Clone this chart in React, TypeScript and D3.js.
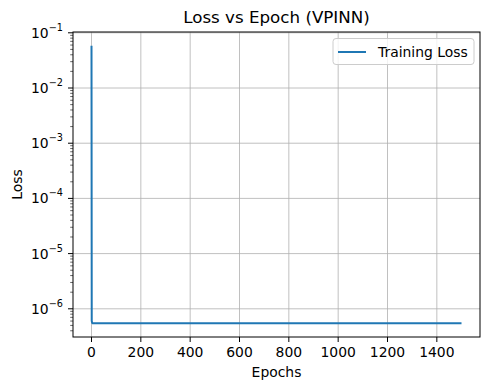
import React, { useEffect, useRef } from "react";
import * as d3 from "d3";

// loss curve
const epochs = [0, 1, 3, 1500];
const losses = [0.058, 6.0e-7, 5.5e-7, 5.5e-7];
const xTicks = [0, 200, 400, 600, 800, 1000, 1200, 1400];
const yExponents = [-6, -5, -4, -3, -2, -1];

const App = () => {
  const svgRef = useRef<SVGSVGElement>(null);

  useEffect(() => {
    const width = 490;
    const height = 390;
    const margin = { top: 32, right: 10, bottom: 53, left: 73 };
    const font = "DejaVu Sans, sans-serif";

    const svg = d3.select(svgRef.current);
    svg.selectAll("*").remove();
    svg.attr("width", width).attr("height", height);

    const data = epochs.map((e, i) => ({ epoch: e, loss: losses[i] }));

    const xPad = (d3.max(epochs)! - d3.min(epochs)!) * 0.05;
    const x = d3
      .scaleLinear()
      .domain([d3.min(epochs)! - xPad, d3.max(epochs)! + xPad])
      .range([margin.left, width - margin.right]);

    const lo = Math.log10(d3.min(losses)!);
    const hi = Math.log10(d3.max(losses)!);
    const yPad = (hi - lo) * 0.05;
    const y = d3
      .scaleLog()
      .domain([Math.pow(10, lo - yPad), Math.pow(10, hi + yPad)])
      .range([height - margin.bottom, margin.top]);

    svg.append("rect").attr("width", width).attr("height", height).attr("fill", "white");

    const [x0, x1] = x.range();
    const [y0, y1] = y.range();

    // grid
    const grid = svg.append("g").attr("stroke", "#b0b0b0").attr("stroke-width", 0.8);
    xTicks.forEach((t) => {
      grid.append("line").attr("x1", x(t)).attr("x2", x(t)).attr("y1", y0).attr("y2", y1);
    });
    yExponents.forEach((p) => {
      const v = y(Math.pow(10, p));
      grid.append("line").attr("x1", x0).attr("x2", x1).attr("y1", v).attr("y2", v);
    });

    // line
    const line = d3
      .line<{ epoch: number; loss: number }>()
      .x((d) => x(d.epoch))
      .y((d) => y(d.loss));
    svg
      .append("path")
      .datum(data)
      .attr("fill", "none")
      .attr("stroke", "#1f77b4")
      .attr("stroke-width", 2)
      .attr("stroke-linejoin", "round")
      .attr("d", line);

    // spines
    svg
      .append("rect")
      .attr("x", x0)
      .attr("y", y1)
      .attr("width", x1 - x0)
      .attr("height", y0 - y1)
      .attr("fill", "none")
      .attr("stroke", "black")
      .attr("stroke-width", 1);

    // x ticks
    const xAxis = svg.append("g");
    xTicks.forEach((t) => {
      xAxis.append("line").attr("x1", x(t)).attr("x2", x(t)).attr("y1", y0).attr("y2", y0 + 5).attr("stroke", "black");
      xAxis
        .append("text")
        .attr("x", x(t))
        .attr("y", y0 + 20)
        .attr("text-anchor", "middle")
        .attr("font-family", font)
        .attr("font-size", 13.9)
        .text(t);
    });

    // y ticks (major + minor)
    const yAxis = svg.append("g");
    const [dLo, dHi] = y.domain();
    for (let p = Math.floor(Math.log10(dLo)); p <= Math.ceil(Math.log10(dHi)); p++) {
      for (let m = 2; m <= 9; m++) {
        const v = m * Math.pow(10, p);
        if (v < dLo || v > dHi) continue;
        yAxis.append("line").attr("x1", x0 - 2.8).attr("x2", x0).attr("y1", y(v)).attr("y2", y(v)).attr("stroke", "black").attr("stroke-width", 0.6);
      }
    }
    yExponents.forEach((p) => {
      const v = y(Math.pow(10, p));
      yAxis.append("line").attr("x1", x0 - 5).attr("x2", x0).attr("y1", v).attr("y2", v).attr("stroke", "black");
      const t = yAxis
        .append("text")
        .attr("x", x0 - 10)
        .attr("y", v + 5)
        .attr("text-anchor", "end")
        .attr("font-family", font)
        .attr("font-size", 13.9);
      t.append("tspan").text("10");
      t.append("tspan").attr("dy", -7).attr("font-size", 9.7).text("\u2212" + Math.abs(p));
    });

    // labels
    svg
      .append("text")
      .attr("x", (x0 + x1) / 2)
      .attr("y", 23)
      .attr("text-anchor", "middle")
      .attr("font-family", font)
      .attr("font-size", 16.7)
      .text("Loss vs Epoch (VPINN)");
    svg
      .append("text")
      .attr("x", (x0 + x1) / 2)
      .attr("y", 377)
      .attr("text-anchor", "middle")
      .attr("font-family", font)
      .attr("font-size", 13.9)
      .text("Epochs");
    svg
      .append("text")
      .attr("transform", `translate(22, ${(y0 + y1) / 2}) rotate(-90)`)
      .attr("text-anchor", "middle")
      .attr("font-family", font)
      .attr("font-size", 13.9)
      .text("Loss");

    // legend
    const lg = svg.append("g");
    lg.append("rect")
      .attr("x", 333)
      .attr("y", 38.5)
      .attr("width", 141)
      .attr("height", 26)
      .attr("rx", 3)
      .attr("fill", "white")
      .attr("fill-opacity", 0.8)
      .attr("stroke", "#cccccc");
    lg.append("line").attr("x1", 338).attr("x2", 366).attr("y1", 52).attr("y2", 52).attr("stroke", "#1f77b4").attr("stroke-width", 2);
    lg.append("text")
      .attr("x", 378)
      .attr("y", 57)
      .attr("font-family", font)
      .attr("font-size", 13.9)
      .text("Training Loss");
  }, []);

  return <svg ref={svgRef} style={{ position: "absolute", left: 0, top: 0 }} />;
};

export default App;
